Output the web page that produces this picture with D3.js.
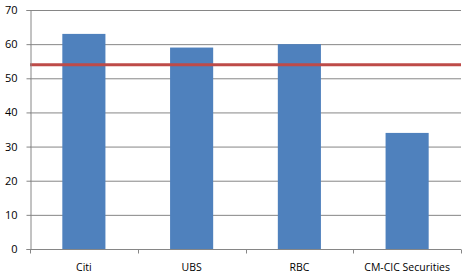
<!DOCTYPE html>
<html lang="en">
<head>
    <meta charset="UTF-8">
    <title>broker chart</title>
    <script src="https://d3js.org/d3.v7.min.js"></script>
    <style>
        body { margin: 0; background: #fff; }
        text { font-family: "Open Sans", "Noto Sans", sans-serif; font-size: 11px; fill: #000; }
    </style>
</head>
<body>
    <div class="canvas"></div>
    <script>
        let brokers = ["Citi", "UBS", "RBC", "CM-CIC Securities"];
        let values = [63, 59, 60, 34];
        let average = [54];
        let yTicks = [0, 10, 20, 30, 40, 50, 60, 70];

        // canvas
        let margin = { top: 10, right: 4, bottom: 27, left: 30 };
        let width = 465 - margin.left - margin.right;
        let height = 276 - margin.top - margin.bottom;

        let canvas = d3.select(".canvas")
            .append("svg")
            .attr("width", 465)
            .attr("height", 276)
            .append("g")
            .attr("transform", "translate(" + margin.left + "," + margin.top + ")");

        let x_scale = d3.scaleBand()
            .domain(brokers)
            .range([0, width])
            .paddingInner(0.6)
            .paddingOuter(0.3);
        let x_axis_scale = d3.scaleBand().domain(brokers).range([0, width]);
        let y_scale = d3.scaleLinear().domain([0, 70]).range([height, 0]);

        // gridlines
        canvas.append("g").selectAll("line")
            .data(yTicks.filter(d => d > 0))
            .enter().append("line")
            .attr("x1", 0).attr("x2", width)
            .attr("y1", d => y_scale(d) + 0.5).attr("y2", d => y_scale(d) + 0.5)
            .attr("stroke", "#868686");

        // bars
        canvas.append("g").selectAll("rect")
            .data(brokers)
            .enter().append("rect")
            .attr("x", d => x_scale(d))
            .attr("y", (d, i) => y_scale(values[i]))
            .attr("width", x_scale.bandwidth())
            .attr("height", (d, i) => height - y_scale(values[i]))
            .attr("fill", "#4F81BD");

        // average line
        canvas.append("g").selectAll("line")
            .data(average)
            .enter().append("line")
            .attr("x1", 0).attr("x2", width)
            .attr("y1", d => y_scale(d)).attr("y2", d => y_scale(d))
            .attr("stroke", "#BE4B48")
            .attr("stroke-width", 3);

        // y axis
        let y_axis = canvas.append("g")
            .attr("transform", "translate(0.5,0)")
            .call(d3.axisLeft(y_scale).tickValues(yTicks).tickSize(4).tickPadding(9));
        y_axis.selectAll("line, path").attr("stroke", "#868686");

        // x axis
        let bounds = brokers.map(d => x_axis_scale(d)).concat([width]);
        let x_axis = canvas.append("g")
            .attr("transform", "translate(0," + (height + 0.5) + ")");
        x_axis.append("line")
            .attr("x1", 0).attr("x2", width)
            .attr("stroke", "#868686");
        x_axis.selectAll(".tk").data(bounds).enter().append("line")
            .attr("class", "tk")
            .attr("x1", d => Math.round(d) + 0.5).attr("x2", d => Math.round(d) + 0.5)
            .attr("y1", 0).attr("y2", 4)
            .attr("stroke", "#868686");
        x_axis.selectAll("text").data(brokers).enter().append("text")
            .attr("x", d => x_axis_scale(d) + x_axis_scale.bandwidth() / 2)
            .attr("y", 21)
            .attr("text-anchor", "middle")
            .style("font-size", "10.5px")
            .text(d => d);
        canvas.selectAll(".tick text").style("font-size", "11px").attr("fill", "#000");
    </script>
</body>
</html>
